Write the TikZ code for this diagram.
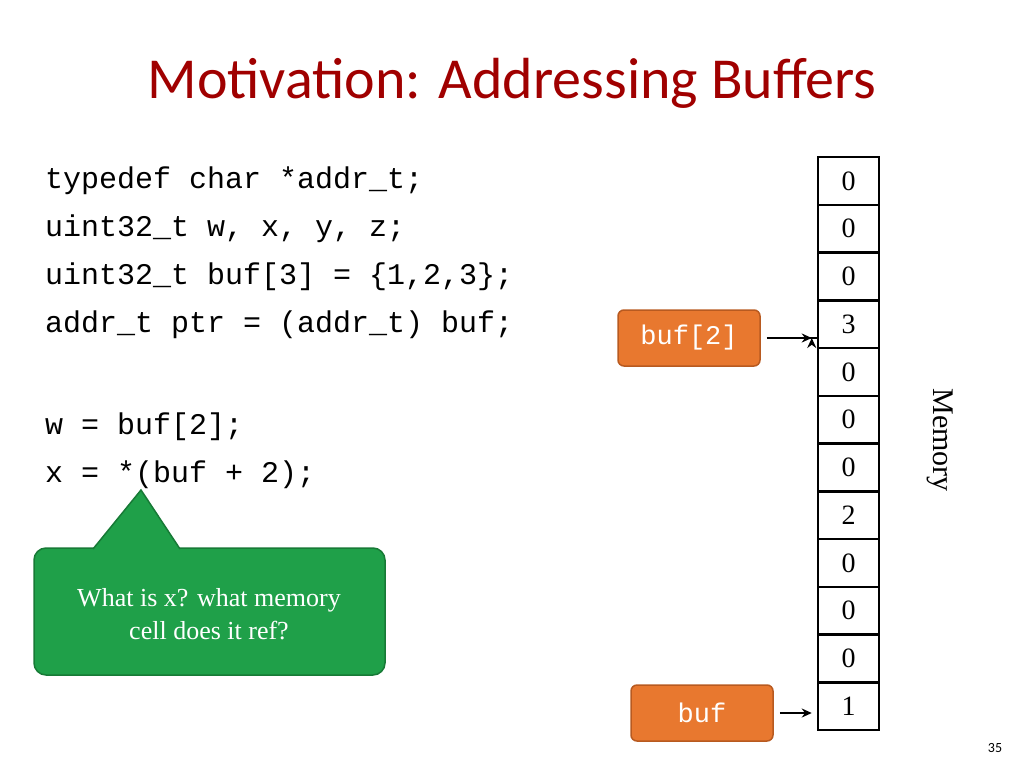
\documentclass[tikz,border=0pt]{standalone}
\usepackage{fontspec}
\setmainfont{Liberation Serif}
\newfontfamily\titlefont{Carlito}
\newfontfamily\codefont{Liberation Mono}
\usetikzlibrary{arrows.meta}
\definecolor{ttl}{HTML}{A00000}
\definecolor{org}{HTML}{E8782F}
\definecolor{orgd}{HTML}{B85A20}
\definecolor{grn}{HTML}{1FA049}
\definecolor{grnd}{HTML}{177A36}
\tikzset{
 code/.style={anchor=west,inner sep=0pt,font=\codefont\fontsize{30}{36}\selectfont},
 cell/.style={draw=black,line width=2.5pt,minimum width=61pt,minimum height=47.75pt,inner sep=0pt,font=\fontsize{28}{32}\selectfont},
 tag/.style={draw=orgd,line width=1.5pt,fill=org,rounded corners=6pt,minimum width=142pt,minimum height=56pt,text=white,font=\codefont\fontsize{27}{32}\selectfont},
 arr/.style={-{Stealth[length=10pt,width=9pt]},line width=2pt}
}
\begin{document}
\begin{tikzpicture}[x=1pt,y=-1pt]
\useasboundingbox (0,0) rectangle (1024,768);
\node[font=\titlefont\fontsize{58}{70}\selectfont,text=ttl] (title) at (512,83) {Motivation: Addressing Buffers};
\node[code] (c1) at (45,181) {typedef char *addr\_t;};
\node[code] (c2) at (45,229) {uint32\_t w, x, y, z;};
\node[code] (c3) at (45,277) {uint32\_t buf[3] = \{1,2,3\};};
\node[code] (c4) at (45,325) {addr\_t ptr = (addr\_t) buf;};
\node[code] (c5) at (45,427) {w = buf[2];};
\node[code] (c6) at (45,475) {x = *(buf + 2);};
\foreach \v [count=\i] in {0,0,0,3,0,0,0,2,0,0,0,1}{
 \node[cell] (m\i) at (848.5,{157+(\i-0.5)*47.75}) {\v};
}
\node[rotate=-90,font=\fontsize{30}{36}\selectfont] (mem) at (940,440) {Memory};
\node[tag] (b2) at (689,338) {buf[2]};
\node[tag] (b0) at (702,713) {buf};
\draw[arr] (b2.east)++(6,0) coordinate (a1) -- (a1 -| m4.west) ++(-5,0);
\draw[arr] (a1) -- ([xshift=-5pt]a1 -| m4.west);
\coordinate (a2) at ([xshift=6pt]b0.east);
\draw[arr] (a2) -- ([xshift=-5pt]a2 -| m12.west);
\draw[grnd,line width=1.5pt,fill=grn,rounded corners=12pt] (34,548) rectangle (385,675);
\draw[grnd,line width=1.5pt,fill=grn] (93,549) -- (141,490) -- (180,549);
\fill[grn] (94,552) rectangle (179,558);
\node[text=white,align=center,font=\fontsize{26}{33}\selectfont] (q) at (209,614) {What is x? what memory\\cell does it ref?};
\node[font=\titlefont\fontsize{14}{16}\selectfont] (pg) at (995,748) {35};
\end{tikzpicture}
\end{document}
